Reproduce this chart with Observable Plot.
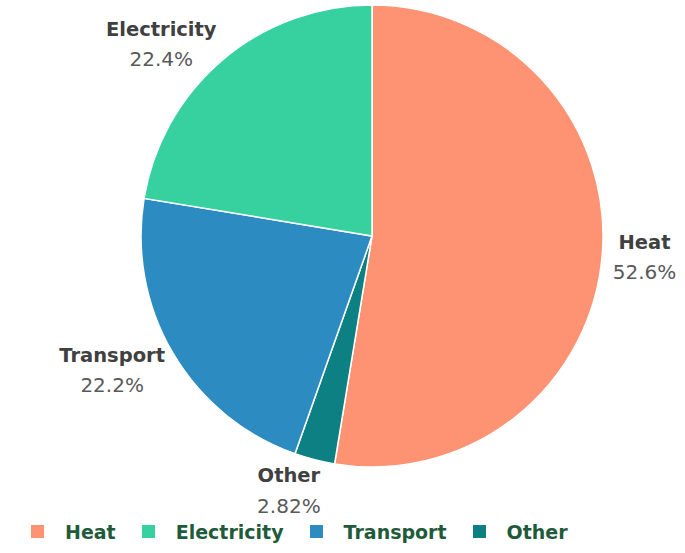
<!DOCTYPE html>
<html><head><meta charset="utf-8">
<script src="https://cdn.jsdelivr.net/npm/d3@7"></script>
<script src="https://cdn.jsdelivr.net/npm/@observablehq/plot@0.6"></script>
<style>
body{margin:0;background:#fff;font-family:"DejaVu Sans",sans-serif;position:relative;width:685px;height:553px;overflow:hidden}
#legend{position:absolute;left:31px;top:510px;display:flex;align-items:center;height:43px;}
.item{display:flex;align-items:center;margin-right:26px;}
.sw{width:13px;height:13px;margin-right:21px}
.lab{font-weight:bold;font-size:19px;color:#1f5b3a;font-family:"DejaVu Sans",sans-serif}
</style></head>
<body><div id="chart"></div><div id="legend"></div>
<script>
// Data (slices clockwise from 12 o'clock)
const categories = ["Heat", "Other", "Transport", "Electricity"];
const shares = [52.6, 2.82, 22.2, 22.4];
const percentLabels = ["52.6%", "2.82%", "22.2%", "22.4%"];
const legendOrder = ["Heat", "Electricity", "Transport", "Other"];
const colorRange = ["#fd9373", "#37d1a0", "#2c8bc1", "#0c8082"];

const W = 685, H = 553, CX = 372, CY = 236, R = 231;
const color = d3.scaleOrdinal().domain(legendOrder).range(colorRange);

const rows = categories.map((c, i) => ({category: c, value: shares[i], pct: percentLabels[i]}));
const slices = d3.pie().sort(null).value(d => d.value)(rows);

// measure text for label placement
const ctx = document.createElement("canvas").getContext("2d");
function tw(t, weight, size) { ctx.font = `${weight} ${size}px "DejaVu Sans"`; return ctx.measureText(t).width; }

const gap = 10, halfH = 22, k = 3;
slices.forEach(s => {
  const a = (s.startAngle + s.endAngle) / 2;
  const ux = Math.sin(a), uy = Math.cos(a);
  const halfW = Math.max(tw(s.data.category, "bold", 19.5), tw(s.data.pct, "normal", 20)) / 2;
  s.data.lx = (R + gap) * ux + halfW * Math.sign(ux) * Math.min(1, Math.abs(ux) * k);
  s.data.ly = Math.min((R + gap) * uy + halfH * uy, CY - 44);
});

function pieMark(index, scales) {
  const cx = scales.x(0), cy = scales.y(0), rad = scales.x(R) - cx;
  const arc = d3.arc().innerRadius(0).outerRadius(rad);
  const g = d3.create("svg:g").attr("transform", `translate(${cx},${cy})`);
  g.selectAll("path").data(slices).join("path")
    .attr("d", arc)
    .attr("fill", d => color(d.data.category))
    .attr("stroke", "#fff").attr("stroke-width", 1.5);
  return g.node();
}

const chart = Plot.plot({
  width: W, height: H, margin: 0,
  style: {fontFamily: "'DejaVu Sans', sans-serif", background: "#fff"},
  x: {domain: [-CX, W - CX], range: [0, W], axis: null},
  y: {domain: [-(H - CY), CY], range: [H, 0], axis: null},
  marks: [
    pieMark,
    Plot.text(rows, {x: "lx", y: "ly", text: "category", dy: -15, fontWeight: "bold", fontSize: 19.5, fill: "#404040"}),
    Plot.text(rows, {x: "lx", y: "ly", text: "pct", dy: 15, fontSize: 20, fill: "#595959"})
  ]
});
document.getElementById("chart").appendChild(chart);

const legend = d3.select("#legend");
legendOrder.forEach(c => {
  const it = legend.append("div").attr("class", "item");
  it.append("div").attr("class", "sw").style("background", color(c));
  it.append("div").attr("class", "lab").text(c);
});
</script>
</body></html>
